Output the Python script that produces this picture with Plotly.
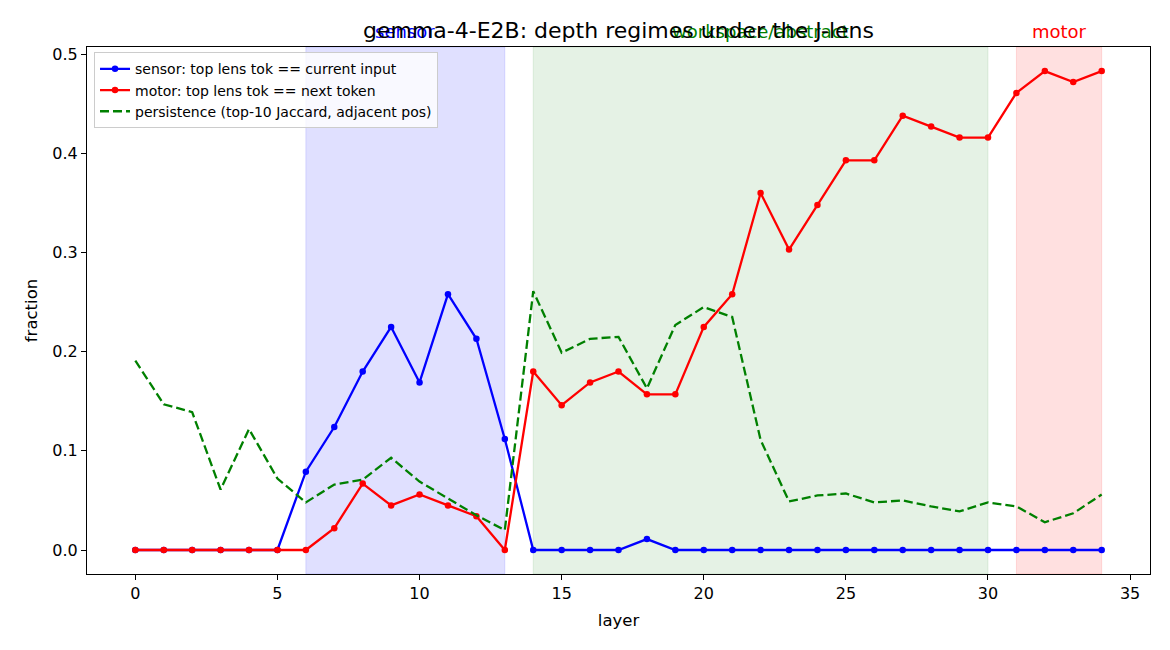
import plotly.graph_objects as go

layers = list(range(35))
sensor = [0, 0, 0, 0, 0, 0, 0.079, 0.124, 0.180, 0.225, 0.169, 0.258, 0.213, 0.112,
          0, 0, 0, 0, 0.011, 0, 0, 0, 0, 0, 0, 0, 0, 0, 0, 0, 0, 0, 0, 0, 0]
motor = [0, 0, 0, 0, 0, 0, 0, 0.022, 0.067, 0.045, 0.056, 0.045, 0.034, 0,
         0.180, 0.146, 0.169, 0.180, 0.157, 0.157, 0.225, 0.258, 0.360, 0.303, 0.348,
         0.393, 0.393, 0.438, 0.427, 0.416, 0.416, 0.461, 0.483, 0.472, 0.483]
persistence = [0.191, 0.147, 0.139, 0.061, 0.122, 0.072, 0.048, 0.066, 0.071, 0.093,
               0.069, 0.052, 0.035, 0.020, 0.261, 0.199, 0.213, 0.215, 0.163, 0.227,
               0.245, 0.235, 0.111, 0.049, 0.055, 0.057, 0.048, 0.050, 0.044, 0.039,
               0.048, 0.044, 0.028, 0.037, 0.056]

region_names = ["sensor", "workspace/abstract", "motor"]
region_starts = [6, 14, 31]
region_ends = [13, 30, 34]
region_fills = ["rgba(0,0,255,0.12)", "rgba(0,128,0,0.10)", "rgba(255,0,0,0.12)"]
region_text_colors = ["blue", "green", "red"]

FONT = "DejaVu Sans"

fig = go.Figure()

fig.add_trace(go.Scatter(x=layers, y=sensor, mode="lines+markers",
                         name="sensor: top lens tok == current input",
                         line=dict(color="blue", width=2.3),
                         marker=dict(color="blue", size=6.5)))
fig.add_trace(go.Scatter(x=layers, y=motor, mode="lines+markers",
                         name="motor: top lens tok == next token",
                         line=dict(color="red", width=2.3),
                         marker=dict(color="red", size=6.5)))
fig.add_trace(go.Scatter(x=layers, y=persistence, mode="lines",
                         name="persistence (top-10 Jaccard, adjacent pos)",
                         line=dict(color="green", width=2.3, dash="9px,4px")))

for s, e, c in zip(region_starts, region_ends, region_fills):
    fig.add_shape(type="rect", xref="x", yref="paper", x0=s, x1=e, y0=0, y1=1,
                  fillcolor=c, line=dict(color=c, width=1), layer="below")

for n, s, e, c in zip(region_names, region_starts, region_ends, region_text_colors):
    fig.add_annotation(x=(s + e) / 2, xref="x", y=1, yref="paper", text=n,
                       showarrow=False, yanchor="middle", yshift=16,
                       font=dict(family=FONT, size=18, color=c))

fig.add_annotation(x=0.5, xref="paper", y=1, yref="paper",
                   text="gemma-4-E2B: depth regimes under the J-lens",
                   showarrow=False, yanchor="middle", yshift=17,
                   font=dict(family=FONT, size=22, color="black"))

fig.update_layout(
    width=1162, height=642,
    paper_bgcolor="white", plot_bgcolor="white",
    margin=dict(l=79, r=20, t=39, b=76),
    font=dict(family=FONT, size=16, color="black"),
    showlegend=True,
    legend=dict(x=0.0066, y=0.99, xanchor="left", yanchor="top",
                bgcolor="rgba(255,255,255,0.8)", bordercolor="#cccccc", borderwidth=1,
                font=dict(family=FONT, size=14), tracegroupgap=0,
                itemwidth=30),
)

fig.update_xaxes(range=[-1.7, 35.7], tickvals=[0, 5, 10, 15, 20, 25, 30, 35],
                 showgrid=False, zeroline=False, showline=True, mirror=True,
                 linecolor="black", linewidth=1.2, ticks="outside", ticklen=5,
                 tickwidth=1.2, tickcolor="black",
                 title=dict(text="layer", standoff=12, font=dict(size=16.5)))
fig.update_yaxes(range=[-0.0242, 0.5073], tickvals=[0, 0.1, 0.2, 0.3, 0.4, 0.5],
                 tickformat=".1f",
                 showgrid=False, zeroline=False, showline=True, mirror=True,
                 linecolor="black", linewidth=1.2, ticks="outside", ticklen=5,
                 tickwidth=1.2, tickcolor="black",
                 title=dict(text="fraction", standoff=10, font=dict(size=16.5)))

fig.write_html("out.html")
